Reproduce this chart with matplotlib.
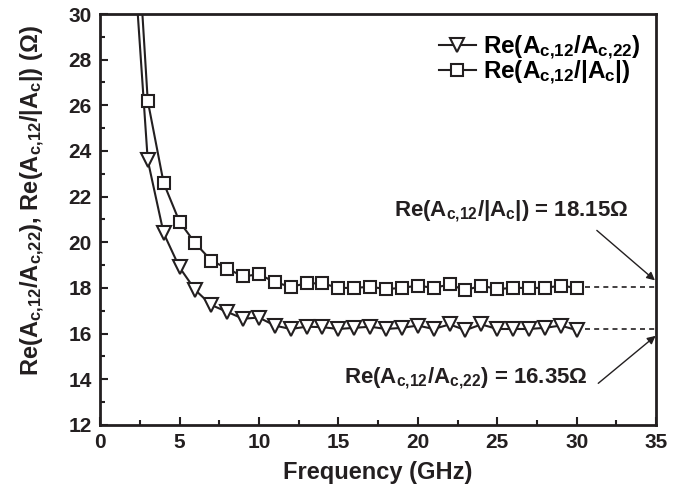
import matplotlib
matplotlib.use('Agg')
import matplotlib.pyplot as plt

plt.rcParams['font.family'] = ['Liberation Sans', 'DejaVu Sans']
plt.rcParams['font.weight'] = 'bold'
plt.rcParams['axes.labelweight'] = 'bold'
plt.rcParams['mathtext.fontset'] = 'custom'
plt.rcParams['mathtext.rm'] = 'Liberation Sans:bold'
plt.rcParams['mathtext.it'] = 'Liberation Sans:bold'
plt.rcParams['mathtext.bf'] = 'Liberation Sans:bold'

freq = list(range(2, 31))
re_ratio = [33.8, 23.6, 20.4, 18.9, 17.9, 17.25, 16.95, 16.65, 16.7, 16.35,
            16.2, 16.3, 16.28, 16.2, 16.25, 16.3, 16.2, 16.25, 16.35, 16.2,
            16.4, 16.15, 16.4, 16.2, 16.2, 16.2, 16.25, 16.35, 16.15]
re_det = [37.5, 26.2, 22.6, 20.9, 19.95, 19.2, 18.85, 18.5, 18.6, 18.25,
          18.05, 18.2, 18.2, 18.0, 18.0, 18.05, 17.95, 18.0, 18.1, 18.0,
          18.15, 17.9, 18.1, 17.95, 18.0, 18.0, 18.0, 18.1, 18.0]
level_ratio = 16.22
level_det = 18.03

lbl_ratio = 'Re(A$_{c{,}12}$/A$_{c{,}22}$)'
lbl_det = 'Re(A$_{c{,}12}$/|A$_c$|)'

fig = plt.figure(figsize=(6.95, 5.01), dpi=100)
ax = fig.add_axes([0.144, 0.152, 0.8, 0.82])

c = '#231f20'
ax.plot(freq, re_ratio, color=c, lw=1.5, marker='v', ms=10.5, mfc='white', mec=c, mew=1.5, label=lbl_ratio)
ax.plot(freq, re_det, color=c, lw=1.5, marker='s', ms=8.5, mfc='white', mec=c, mew=1.5, label=lbl_det)

# dashed extensions to the right edge
ax.plot([30.5, 35], [level_det, level_det], color=c, lw=1.2, ls=(0, (3, 2.5)))
ax.plot([30.5, 35], [level_ratio, level_ratio], color=c, lw=1.2, ls=(0, (3, 2.5)))

# value labels and arrows
ax.text(25.9, 21.35, lbl_det + ' = 18.15$\\Omega$', ha='center', va='center', fontsize=16, color=c)
ax.annotate('', xy=(34.93, 18.33), xytext=(31.27, 20.52),
            arrowprops=dict(arrowstyle='-|>', color=c, lw=1.0, shrinkA=0, shrinkB=0, mutation_scale=12))
ax.text(23.0, 14.05, lbl_ratio + ' = 16.35$\\Omega$', ha='center', va='center', fontsize=16, color=c)
ax.annotate('', xy=(34.97, 15.9), xytext=(31.36, 13.82),
            arrowprops=dict(arrowstyle='-|>', color=c, lw=1.0, shrinkA=0, shrinkB=0, mutation_scale=12))

ax.set_xlim(0, 35)
ax.set_ylim(12, 30)
ax.set_xticks(range(0, 36, 5))
ax.set_yticks(range(12, 31, 2))
ax.set_xticks([2.5 + 5 * i for i in range(7)], minor=True)
ax.set_yticks(range(13, 30, 2), minor=True)
ax.tick_params(which='both', direction='in', width=1.5, labelsize=15, colors=c, pad=6)
ax.tick_params(which='major', length=6)
ax.tick_params(which='minor', length=3.5)
for s in ax.spines.values():
    s.set_linewidth(2)
    s.set_color(c)

ax.set_xlabel('Frequency (GHz)', fontsize=17, fontweight='bold', color=c, labelpad=6)
ax.set_ylabel(lbl_ratio + ', ' + lbl_det + ' ($\\Omega$)', fontsize=17, fontweight='bold', color=c)
ax.yaxis.set_label_coords(-0.095, 0.545)

ax.legend(loc='upper right', frameon=False, fontsize=17.5, handlelength=1.5, handletextpad=0.3,
          borderaxespad=0.4, labelspacing=-0.1, bbox_to_anchor=(1.007, 1.0))

fig.savefig('out.png', dpi=100)
